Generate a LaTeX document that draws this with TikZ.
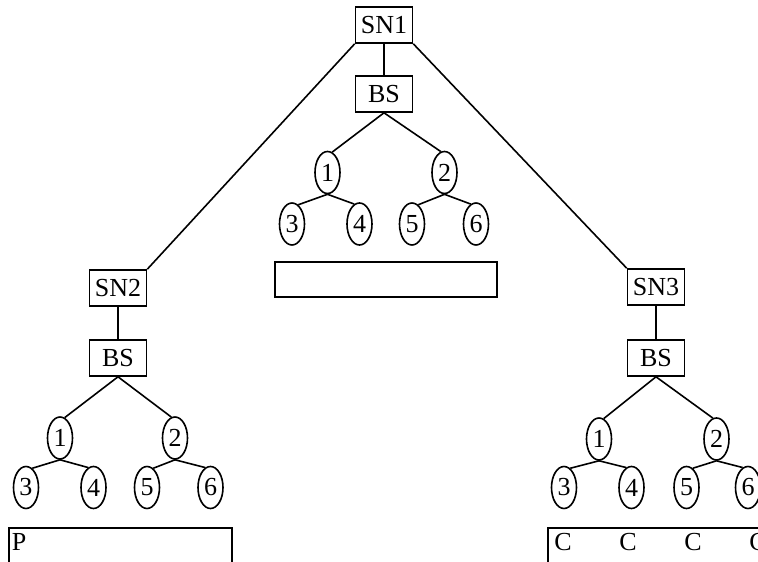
\documentclass[tikz,border=0pt]{standalone}
\usepackage{fontspec}
\setmainfont{Liberation Serif}
\usetikzlibrary{shapes.geometric}
\begin{document}
\begin{tikzpicture}[x=1pt,y=-1pt,
  every node/.style={font=\fontsize{26}{30}\selectfont},
  sn/.style={draw, line width=1.6pt, rectangle, minimum width=57pt, minimum height=36pt, inner sep=0pt},
  leaf/.style={draw, line width=1.6pt, ellipse, minimum width=25pt, minimum height=42pt, inner sep=0pt},
  edge/.style={line width=1.6pt},
  panel/.style={draw, line width=1.6pt}]
\useasboundingbox (0,0) rectangle (758,562);
\fill[white] (0,0) rectangle (758,562);
\clip (0,0) rectangle (758,562);

% top switch node and its tree
\node[sn] (sn1) at (384,25) {SN1};
\node[sn] (bsm) at (384,94) {BS};
\node[leaf] (m1) at (327.5,172.5) {1};
\node[leaf] (m2) at (444.5,172.5) {2};
\node[leaf] (m3) at (292,224) {3};
\node[leaf] (m4) at (359.5,224) {4};
\node[leaf] (m5) at (412,224) {5};
\node[leaf] (m6) at (476,224) {6};
\node[panel, minimum width=222pt, minimum height=35pt, inner sep=0pt] (mbox) at (386,279.5) {};

% left switch node and its tree
\node[sn] (sn2) at (118,288) {SN2};
\node[sn] (bsl) at (118,358) {BS};
\node[leaf] (l1) at (60,438) {1};
\node[leaf] (l2) at (175,438) {2};
\node[leaf] (l3) at (26,487.5) {3};
\node[leaf] (l4) at (93.5,487.5) {4};
\node[leaf] (l5) at (147,487.5) {5};
\node[leaf] (l6) at (210.5,487.5) {6};
\node[panel, minimum width=223pt, minimum height=60pt, inner sep=0pt, anchor=north west] (lbox) at (8,527) {};
\node (pl) at (19,542) {P};

% right switch node and its tree
\node[sn] (sn3) at (656,287) {SN3};
\node[sn] (bsr) at (656,358) {BS};
\node[leaf] (r1) at (599,439) {1};
\node[leaf] (r2) at (716.5,439) {2};
\node[leaf] (r3) at (564,487.5) {3};
\node[leaf] (r4) at (631.5,487.5) {4};
\node[leaf] (r5) at (686.5,487.5) {5};
\node[leaf] (r6) at (748,487.5) {6};
\node[panel, minimum width=260pt, minimum height=60pt, inner sep=0pt, anchor=north west] (rbox) at (547,527) {};
\node (c1) at (563,542) {C};
\node (c2) at (628,542) {C};
\node (c3) at (693,542) {C};
\node (c4) at (758,542) {C};

% connectors
\draw[edge] (sn1.south) -- (bsm.north);
\draw[edge] (sn1.south west) -- (sn2.north east);
\draw[edge] (sn1.south east) -- (sn3.north west);
\draw[edge] (sn2.south) -- (bsl.north);
\draw[edge] (sn3.south) -- (bsr.north);
\foreach \t/\b in {m/bsm, l/bsl, r/bsr}{
  \draw[edge] (\b.south) -- (\t1.77);
  \draw[edge] (\b.south) -- (\t2.100);
  \draw[edge] (\t1.south) -- (\t3.72);
  \draw[edge] (\t1.south) -- (\t4.105);
  \draw[edge] (\t2.south) -- (\t5.72);
  \draw[edge] (\t2.south) -- (\t6.105);
}
\end{tikzpicture}
\end{document}
